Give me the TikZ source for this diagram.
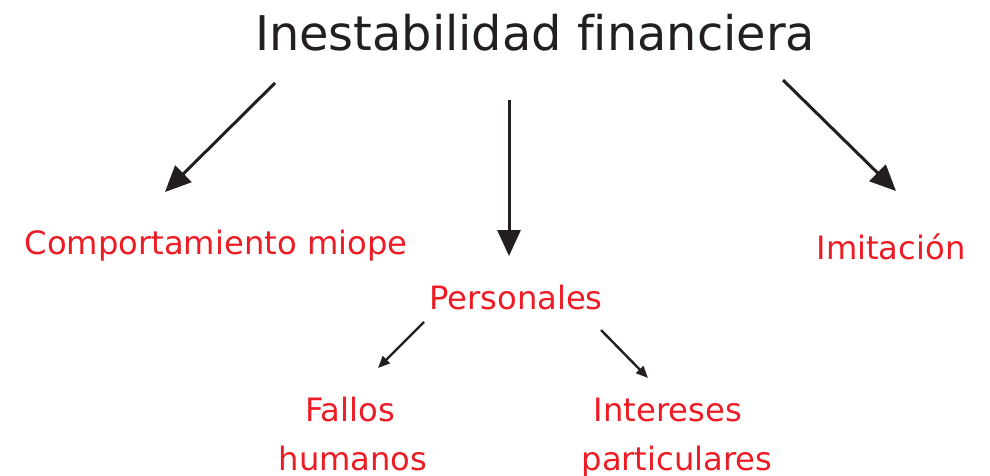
\documentclass[tikz,border=0pt]{standalone}
\usepackage{fontspec}
\setmainfont{DejaVu Sans}[Ligatures=NoCommon]
\usetikzlibrary{arrows.meta}
\definecolor{inkdark}{HTML}{231F20}
\definecolor{inkred}{HTML}{ED1C24}
\tikzset{
  titletext/.style={inner sep=0pt, anchor=base, text=inkdark, font=\fontsize{47.8}{56}\selectfont},
  redtext/.style={inner sep=0pt, anchor=base, text=inkred, font=\fontsize{32.2}{50}\selectfont},
  bigarrow/.style={draw=inkdark, line width=3pt, -{Triangle[length=26pt,width=23pt]}},
  smallarrow/.style={draw=inkdark, line width=2.4pt, -{Triangle[length=12pt,width=10pt]}}
}
\begin{document}
\begin{tikzpicture}[x=1pt,y=-1pt]
\useasboundingbox (0,0) rectangle (990,476);
\node[titletext] (title) at (535,51) {Inestabilidad financiera};
\node[redtext] (miope) at (216,254) {Comportamiento miope};
\node[redtext] (imit) at (891,259) {Imitación};
\node[redtext] (pers) at (516,309) {Personales};
\node[redtext] (fallos1) at (350,421) {Fallos};
\node[redtext] (fallos2) at (353,470) {humanos};
\node[redtext] (inter1) at (668,421) {Intereses};
\node[redtext] (inter2) at (677,470) {particulares};
\coordinate (a1s) at (275,83);
\coordinate (a1e) at (165,192);
\coordinate (a2s) at (509,100);
\coordinate (a2e) at (509,256);
\coordinate (a3s) at (783,80);
\coordinate (a3e) at (896,191);
\coordinate (a4s) at (424,322);
\coordinate (a4e) at (378,368);
\coordinate (a5s) at (601,330);
\coordinate (a5e) at (648,378);
\draw[bigarrow] (a1s) -- (a1e);
\draw[bigarrow] (a2s) -- (a2e);
\draw[bigarrow] (a3s) -- (a3e);
\draw[smallarrow] (a4s) -- (a4e);
\draw[smallarrow] (a5s) -- (a5e);
\end{tikzpicture}
\end{document}
